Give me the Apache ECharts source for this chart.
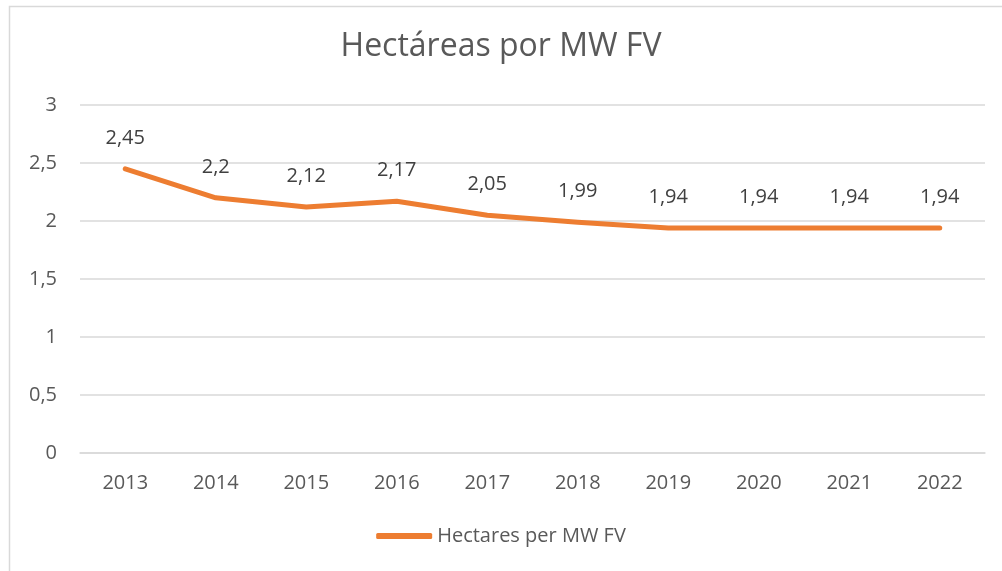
<!DOCTYPE html>
<html>
<head>
<meta charset="utf-8">
<script src="https://cdn.jsdelivr.net/npm/echarts@6/dist/echarts.min.js"></script>
<style>
  html, body { margin: 0; padding: 0; background: #fff; }
  #chart { width: 1002px; height: 571px; }
</style>
</head>
<body>
<div id="chart"></div>
<script>
// data
var years = ['2013', '2014', '2015', '2016', '2017', '2018', '2019', '2020', '2021', '2022'];
var hectares = [2.45, 2.2, 2.12, 2.17, 2.05, 1.99, 1.94, 1.94, 1.94, 1.94];
var seriesName = 'Hectares per MW FV';

var font = 'Open Sans';
function comma(v) {
    return String(v).replace('.', ',');
}

var chart = echarts.init(document.getElementById('chart'));

chart.setOption({
    animation: false,
    backgroundColor: '#fff',
    title: {
        text: 'Hectáreas por MW FV',
        left: 'center',
        top: 26,
        textStyle: {
            fontFamily: font,
            fontSize: 32,
            fontWeight: 'normal',
            color: '#595959'
        }
    },
    graphic: [{
        type: 'rect',
        shape: { x: 9.5, y: 6.5, width: 1000, height: 580 },
        style: { fill: 'none', stroke: '#d9d9d9', lineWidth: 1.5 },
        silent: true
    }],
    grid: {
        left: 80,
        right: 17,
        top: 105,
        bottom: 118
    },
    xAxis: {
        type: 'category',
        data: years,
        boundaryGap: true,
        axisLine: { show: true, lineStyle: { color: '#d9d9d9', width: 1.5 } },
        axisTick: { show: false },
        axisLabel: {
            margin: 20,
            fontFamily: font,
            fontSize: 20,
            color: '#595959'
        }
    },
    yAxis: {
        type: 'value',
        min: 0,
        max: 3,
        interval: 0.5,
        axisLine: { show: false },
        axisTick: { show: false },
        splitLine: { lineStyle: { color: '#d9d9d9', width: 1.5 } },
        axisLabel: {
            margin: 23,
            fontFamily: font,
            fontSize: 20,
            color: '#595959',
            formatter: comma
        }
    },
    legend: {
        bottom: 20,
        left: 'center',
        itemWidth: 56,
        itemHeight: 6,
        itemGap: 4,
        textStyle: {
            fontFamily: font,
            fontSize: 20,
            color: '#595959'
        },
        data: [{ name: seriesName, icon: 'roundRect' }]
    },
    series: [{
        name: seriesName,
        type: 'line',
        data: hectares,
        symbol: 'circle',
        symbolSize: 0,
        lineStyle: { color: '#ED7D31', width: 5, cap: 'round', join: 'round' },
        itemStyle: { color: '#ED7D31' },
        label: {
            show: true,
            position: 'top',
            distance: 21,
            fontFamily: font,
            fontSize: 20,
            color: '#404040',
            formatter: function (p) { return comma(p.value); }
        }
    }]
});
</script>
</body>
</html>
